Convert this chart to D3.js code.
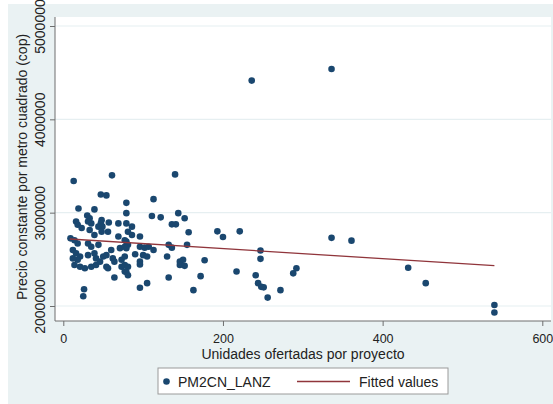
<!DOCTYPE html>
<html>
<head>
<meta charset="utf-8">
<script src="https://cdn.jsdelivr.net/npm/d3@7"></script>
<style>
body { margin: 0; background: #ffffff; }
text { font-family: "Liberation Sans", Arial, sans-serif; }
</style>
</head>
<body>
<svg id="chart" width="553" height="404"></svg>
<script>
// ---- data ----
const unidades = [236,336,13,61,140,47,54,113,79,19,39,79,111,122,144,152,136,141,157,
  16,18,30,33,31,35,48,47,49,57,69,79,23,33,44,48,39,56,69,77,9,14,18,31,35,44,60,71,77,
  12,16,21,18,12,31,39,41,50,54,62,64,73,77,14,21,27,35,41,46,54,56,73,77,64,77,26,25,
  86,81,86,96,79,81,79,96,102,107,113,132,136,155,90,100,105,96,96,81,79,81,130,146,150,146,152,
  177,172,132,105,96,163,193,200,221,217,247,247,241,244,248,251,256,272,288,292,336,361,432,454,540,540];
const precio = [4415000,4540000,3340000,3400000,3410000,3195000,3185000,3145000,3105000,3045000,3035000,2995000,2965000,2950000,2995000,2940000,2875000,2875000,2790000,
  2905000,2870000,2970000,2940000,2905000,2885000,2920000,2885000,2850000,2895000,2885000,2885000,2835000,2815000,2850000,2795000,2760000,2795000,2745000,2705000,2725000,2705000,2670000,2670000,2635000,2655000,2600000,2620000,2635000,
  2600000,2565000,2530000,2495000,2510000,2545000,2565000,2510000,2530000,2545000,2510000,2475000,2495000,2530000,2440000,2420000,2405000,2420000,2440000,2475000,2420000,2405000,2420000,2440000,2305000,2370000,2180000,2105000,
  2850000,2795000,2760000,2745000,2690000,2655000,2620000,2635000,2625000,2635000,2600000,2655000,2625000,2655000,2555000,2545000,2530000,2475000,2445000,2420000,2365000,2330000,2530000,2475000,2495000,2440000,2430000,
  2490000,2320000,2305000,2245000,2195000,2170000,2800000,2740000,2800000,2370000,2595000,2505000,2330000,2245000,2205000,2200000,2090000,2170000,2350000,2405000,2730000,2700000,2410000,2245000,2010000,1930000];
const fitX = [8, 540];
const fitY = [2717700, 2432000];
const xTicks = [0, 200, 400, 600];
const yTicks = [2000000, 3000000, 4000000, 5000000];
const xTitle = "Unidades ofertadas por proyecto";
const yTitle = "Precio constante por metro cuadrado (cop)";
const legendLabels = ["PM2CN_LANZ", "Fitted values"];

// ---- drawing ----
const svg = d3.select("#chart");
const bg = "#eaf2f3";
const navy = "#1a476f";
const maroon = "#90353b";

svg.append("rect").attr("x", 8).attr("y", 4).attr("width", 545).attr("height", 400).attr("fill", bg);
const plotL = 55, plotT = 17, plotR = 551, plotB = 321;
svg.append("rect").attr("x", plotL).attr("y", plotT).attr("width", plotR - plotL).attr("height", plotB - plotT).attr("fill", "#ffffff");

const x = d3.scaleLinear().domain([0, 600]).range([63.3, 542.3]);
const y = d3.scaleLinear().domain([2000000, 5000000]).range([306, 26]);

// gridlines
svg.append("g").selectAll("line").data(yTicks).join("line")
  .attr("x1", plotL).attr("x2", plotR)
  .attr("y1", d => y(d)).attr("y2", d => y(d))
  .attr("stroke", "#e6eff1").attr("stroke-width", 1.2);

// y axis
const yAxis = svg.append("g").attr("transform", `translate(${plotL},0)`)
  .call(d3.axisLeft(y).tickValues(yTicks).tickSize(5).tickFormat(d3.format("d")));
yAxis.select(".domain").attr("d", `M0,${plotT}V${plotB}`).attr("stroke", "#6e6e6e");
yAxis.selectAll(".tick line").attr("stroke", "#6e6e6e");
yAxis.selectAll(".tick text")
  .attr("transform", "rotate(-90)")
  .attr("x", 0).attr("y", -10).attr("dy", 0)
  .attr("text-anchor", "middle")
  .attr("font-size", 14).attr("fill", "#222")
  .style("font-family", "'Liberation Sans', Arial, sans-serif");

// x axis
const xAxis = svg.append("g").attr("transform", `translate(0,${plotB})`)
  .call(d3.axisBottom(x).tickValues(xTicks).tickSize(5).tickFormat(d3.format("d")));
xAxis.select(".domain").attr("d", `M${plotL},0H${plotR}`).attr("stroke", "#6e6e6e");
xAxis.selectAll(".tick line").attr("stroke", "#6e6e6e");
xAxis.selectAll(".tick text")
  .attr("y", 22).attr("dy", 0)
  .attr("font-size", 12.5).attr("fill", "#222")
  .style("font-family", "'Liberation Sans', Arial, sans-serif");

// titles
svg.append("text").attr("x", 303).attr("y", 359).attr("text-anchor", "middle")
  .attr("font-size", 14).attr("fill", "#222").text(xTitle);
svg.append("text").attr("transform", "translate(27,167) rotate(-90)").attr("text-anchor", "middle")
  .attr("font-size", 14).attr("fill", "#222").text(yTitle);

// points
const pts = unidades.map((u, i) => ({u, p: precio[i]}));
svg.append("g").selectAll("circle").data(pts).join("circle")
  .attr("cx", d => x(d.u)).attr("cy", d => y(d.p)).attr("r", 3.3)
  .attr("fill", navy);

// fitted line
const line = d3.line().x(d => x(d[0])).y(d => y(d[1]));
svg.append("path").datum(fitX.map((v, i) => [v, fitY[i]]))
  .attr("d", line).attr("fill", "none").attr("stroke", maroon).attr("stroke-width", 1.3);

// legend
const lg = svg.append("g");
lg.append("rect").attr("x", 158).attr("y", 368).attr("width", 290).attr("height", 26)
  .attr("fill", "#ffffff").attr("stroke", "#9a9a9a").attr("stroke-width", 1);
lg.append("circle").attr("cx", 166.5).attr("cy", 381.5).attr("r", 3.3).attr("fill", navy);
lg.append("text").attr("x", 178).attr("y", 386.5).attr("font-size", 14).attr("fill", "#222").text(legendLabels[0]);
lg.append("line").attr("x1", 297).attr("x2", 350).attr("y1", 381.5).attr("y2", 381.5)
  .attr("stroke", maroon).attr("stroke-width", 1.3);
lg.append("text").attr("x", 359).attr("y", 386.5).attr("font-size", 14).attr("fill", "#222").text(legendLabels[1]);
</script>
</body>
</html>
